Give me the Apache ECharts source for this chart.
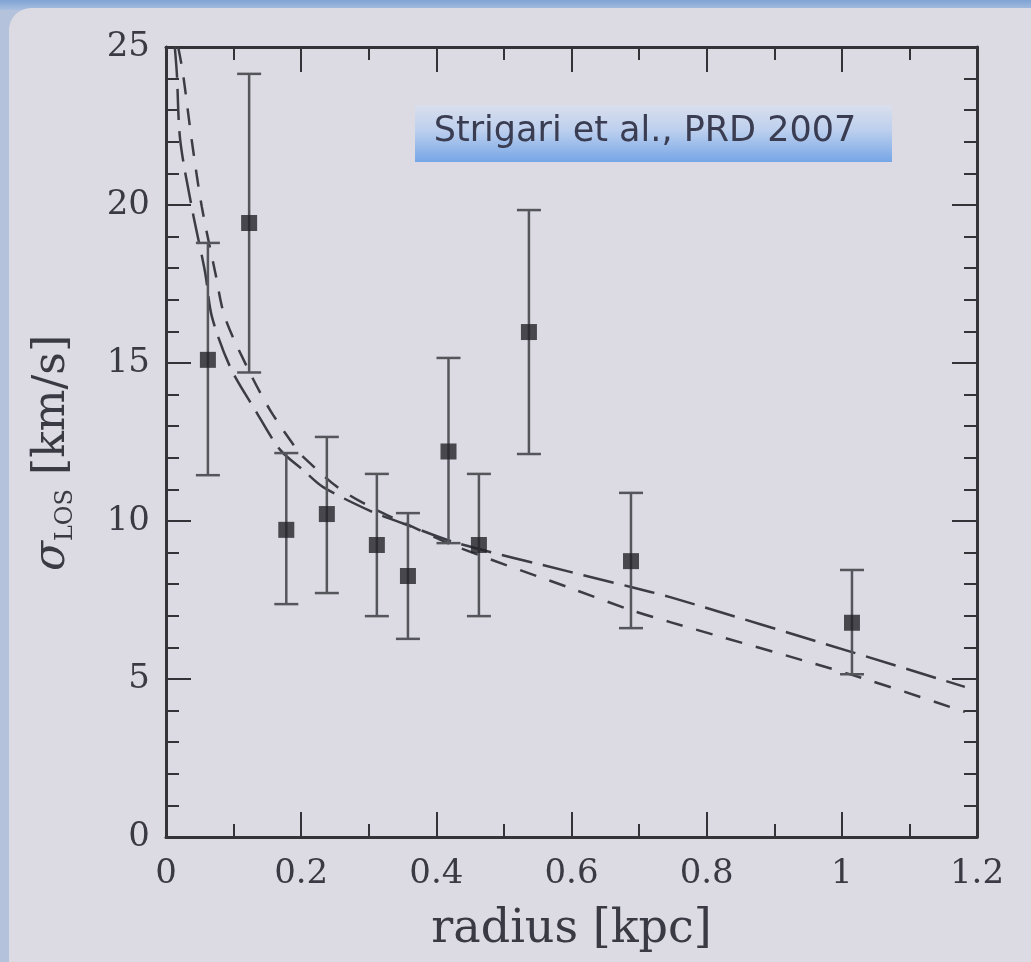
<!DOCTYPE html>
<html>
<head>
<meta charset="utf-8">
<script src="https://cdn.jsdelivr.net/npm/echarts@6/dist/echarts.min.js"></script>
<style>html,body{margin:0;padding:0;background:#dcdae2;}#c{width:1031px;height:962px;}</style>
</head>
<body>
<div id="c"></div>
<script>
// Data points (radius in kpc, sigma_LOS in km/s) with error bar limits
const radius  = [0.062, 0.123, 0.178, 0.238, 0.312, 0.358, 0.418, 0.463, 0.537, 0.688, 1.015];
const sigma   = [15.1, 19.43, 9.72, 10.22, 9.24, 8.26, 12.2, 9.24, 15.98, 8.73, 6.78];
const errLow  = [11.45, 14.7, 7.37, 7.72, 6.99, 6.27, 9.3, 6.99, 12.12, 6.61, 5.15];
const errHigh = [18.8, 24.15, 12.15, 12.66, 11.49, 10.25, 15.16, 11.49, 19.84, 10.89, 8.45];

// Long-dashed model curve
const longR     = [0.013, 0.016, 0.021, 0.038, 0.058, 0.068, 0.095, 0.132, 0.169, 0.203, 0.232, 0.302, 0.351, 0.431, 0.598, 0.688, 0.746, 1.015, 1.182];
const longSigma = [25.0, 24.18, 22.06, 19.94, 17.85, 16.46, 14.87, 13.51, 12.25, 11.61, 11.08, 10.32, 9.92, 9.30, 8.39, 7.91, 7.59, 5.85, 4.75];
// Short-dashed model curve
const shortR     = [0.018, 0.025, 0.038, 0.053, 0.073, 0.087, 0.120, 0.154, 0.194, 0.203, 0.253, 0.302, 0.351, 0.431, 0.598, 0.688, 0.746, 1.015, 1.182];
const shortSigma = [25.0, 24.18, 22.06, 19.94, 17.85, 16.46, 14.87, 13.51, 12.25, 12.03, 11.08, 10.45, 9.95, 9.18, 7.88, 7.18, 6.80, 5.13, 3.96];

const xTicks = {min: 0, max: 1.2, interval: 0.2};
const yTicks = {min: 0, max: 25, interval: 5};
const annotation = 'Strigari et al., PRD 2007';

const ink = '#333338';
const labelFont = {fontFamily: 'DejaVu Serif', fontSize: 34, color: '#3a3a44'};

function axisCommon(extra) {
  return Object.assign({
    type: 'value',
    axisLine: {show: true, onZero: false, lineStyle: {color: ink, width: 3}},
    axisTick: {show: true, inside: true, length: 25, lineStyle: {color: ink, width: 2}},
    minorTick: {show: true, length: 13, lineStyle: {color: ink, width: 2}},
    splitLine: {show: false},
    minorSplitLine: {show: false}
  }, extra);
}

const chart = echarts.init(document.getElementById('c'), null, {renderer: 'canvas'});
chart.setOption({
  backgroundColor: '#b4c2dc',
  animation: false,
  graphic: [
    {type: 'rect', z: -10, shape: {x: 0, y: 0, width: 1031, height: 10},
     style: {fill: new echarts.graphic.LinearGradient(0, 0, 0, 1, [{offset: 0, color: '#7ea3d4'}, {offset: 1, color: '#a9bfdf'}])}},
    {type: 'rect', z: -9, shape: {x: 9, y: 8, width: 1100, height: 1100, r: [22, 0, 0, 0]},
     style: {fill: '#dcdae2'}},
    {type: 'rect', z: 5, shape: {x: 415, y: 105, width: 477, height: 57},
     style: {fill: new echarts.graphic.LinearGradient(0, 0, 0, 1, [
       {offset: 0, color: '#dadfed'}, {offset: 0.45, color: '#bccfee'}, {offset: 1, color: '#76a6e6'}])}},
    {type: 'text', z: 6, x: 645, y: 132,
     style: {text: annotation, fontFamily: 'DejaVu Sans', fontSize: 35, fill: '#3a3d52', align: 'center', verticalAlign: 'middle'}}
  ],
  grid: {left: 166, top: 47, right: 54, bottom: 125, containLabel: false},
  xAxis: [
    axisCommon(Object.assign({}, xTicks, {
      position: 'bottom',
      minorTick: {show: true, splitNumber: 2, length: 13, lineStyle: {color: ink, width: 2}},
      axisLabel: Object.assign({margin: 20}, labelFont),
      name: 'radius [kpc]', nameLocation: 'middle', nameGap: 70,
      nameTextStyle: {fontFamily: 'DejaVu Serif', fontSize: 46, color: '#3a3a44'}
    })),
    axisCommon(Object.assign({}, xTicks, {
      position: 'top',
      minorTick: {show: true, splitNumber: 2, length: 13, lineStyle: {color: ink, width: 2}},
      axisLabel: {show: false}
    }))
  ],
  yAxis: [
    axisCommon(Object.assign({}, yTicks, {
      position: 'left',
      minorTick: {show: true, splitNumber: 5, length: 13, lineStyle: {color: ink, width: 2}},
      axisLabel: Object.assign({margin: 16}, labelFont),
      name: '{g|σ}{s|LOS}{n| [km/s]}', nameLocation: 'middle', nameGap: 88, nameRotate: 90,
      nameTextStyle: {
        color: '#3a3a44',
        padding: [0, 22, 0, 0],
        rich: {
          g: {fontFamily: 'DejaVu Serif', fontStyle: 'italic', fontSize: 44, color: '#3a3a44', lineHeight: 50},
          s: {fontFamily: 'DejaVu Serif', fontSize: 24, color: '#3a3a44', lineHeight: 24, verticalAlign: 'bottom'},
          n: {fontFamily: 'DejaVu Serif', fontSize: 44, color: '#3a3a44', lineHeight: 50}
        }
      }
    })),
    axisCommon(Object.assign({}, yTicks, {
      position: 'right',
      minorTick: {show: true, splitNumber: 5, length: 13, lineStyle: {color: ink, width: 2}},
      axisLabel: {show: false}
    }))
  ],
  series: [
    {
      type: 'line', xAxisIndex: 0, yAxisIndex: 0, z: 2,
      data: longR.map((r, i) => [r, longSigma[i]]),
      showSymbol: false, smooth: 0.3, clip: true,
      lineStyle: {color: '#3c3c44', width: 2.5, type: [31, 11]}
    },
    {
      type: 'line', xAxisIndex: 0, yAxisIndex: 0, z: 2,
      data: shortR.map((r, i) => [r, shortSigma[i]]),
      showSymbol: false, smooth: 0.3, clip: true,
      lineStyle: {color: '#3c3c44', width: 2.5, type: [17, 14]}
    },
    {
      type: 'custom', xAxisIndex: 0, yAxisIndex: 0, z: 3,
      data: radius.map((r, i) => [r, errLow[i], errHigh[i]]),
      renderItem: function (params, api) {
        const x = api.value(0);
        const lo = api.coord([x, api.value(1)]);
        const hi = api.coord([x, api.value(2)]);
        const cap = 12;
        const st = {stroke: '#55555c', lineWidth: 2.5};
        return {type: 'group', children: [
          {type: 'line', shape: {x1: lo[0], y1: lo[1], x2: hi[0], y2: hi[1]}, style: st},
          {type: 'line', shape: {x1: lo[0] - cap, y1: lo[1], x2: lo[0] + cap, y2: lo[1]}, style: st},
          {type: 'line', shape: {x1: hi[0] - cap, y1: hi[1], x2: hi[0] + cap, y2: hi[1]}, style: st}
        ]};
      }
    },
    {
      type: 'scatter', xAxisIndex: 0, yAxisIndex: 0, z: 4,
      data: radius.map((r, i) => [r, sigma[i]]),
      symbol: 'rect', symbolSize: 16,
      itemStyle: {color: '#222228'}
    }
  ]
});
</script>
</body>
</html>
